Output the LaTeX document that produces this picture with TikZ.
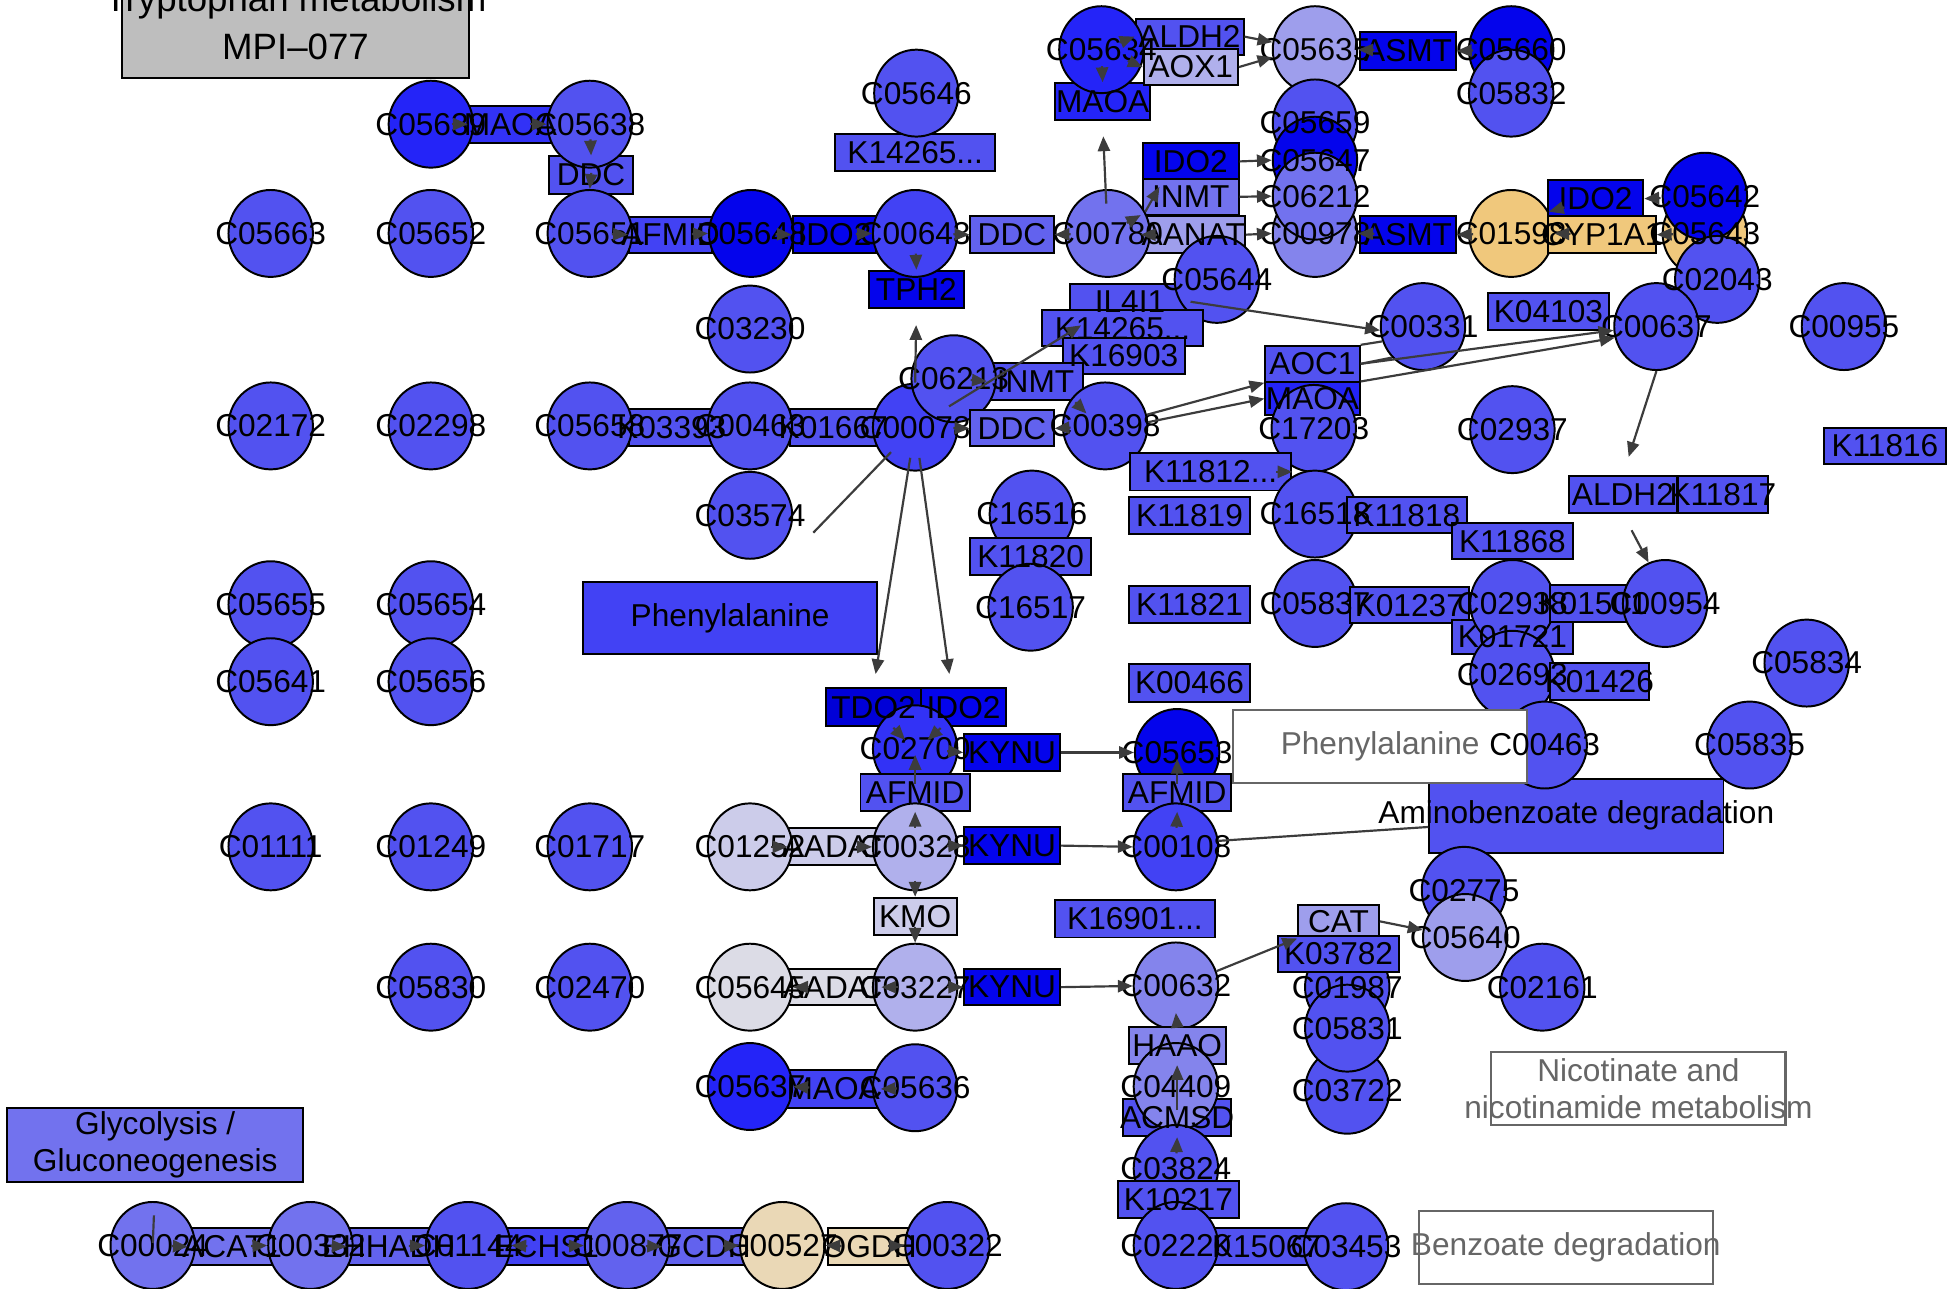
\documentclass[tikz,border=0pt]{standalone}
\usepackage{fontspec}
\setmainfont{Liberation Sans}
\usetikzlibrary{shapes.geometric,arrows.meta,calc}

\definecolor{kgStd}{RGB}{82,82,240}
\definecolor{kgDeep}{RGB}{4,4,236}
\definecolor{kgNavy}{RGB}{0,0,215}
\definecolor{kgDark}{RGB}{36,36,248}
\definecolor{kgMid}{RGB}{66,66,244}
\definecolor{kgBright}{RGB}{50,50,246}
\definecolor{kgDim}{RGB}{98,98,238}
\definecolor{kgSoft}{RGB}{114,114,238}
\definecolor{kgPale}{RGB}{132,132,236}
\definecolor{kgLight}{RGB}{158,158,236}
\definecolor{kgLav}{RGB}{176,176,236}
\definecolor{kgLilac}{RGB}{204,204,234}
\definecolor{kgMist}{RGB}{220,220,230}
\definecolor{kgTan}{RGB}{240,200,124}
\definecolor{kgSand}{RGB}{234,216,182}
\definecolor{kgTitle}{RGB}{190,190,190}
\definecolor{kgEdge}{RGB}{60,60,60}
\definecolor{kgPath}{RGB}{102,102,102}

\newcommand\kgfont{\fontsize{7.25}{8.5}\selectfont}
\newcommand\titlefont{\fontsize{8.4}{11}\selectfont}
\newcommand\dotz{.{}.{}.}
\newcommand\stub[2]{\draw[arr] ($(#2)!1.3mm!(#1)$) -- (#2);}

\tikzset{
  cpd/.style={ellipse, draw, line width=0.45pt, fill=kgStd, inner sep=0pt,
    minimum width=6.8mm, minimum height=7mm},
  enz/.style={rectangle, draw, line width=0.45pt, fill=kgStd, inner sep=0pt,
    minimum height=2.9mm},
  pathbox/.style={rectangle, draw=kgPath, line width=0.5pt, fill=white, inner sep=0pt,
    minimum width=23.7mm, minimum height=5.9mm},
  lbl/.style={font=\kgfont, inner sep=0pt},
  arr/.style={draw=kgEdge, line width=0.5pt, -{Triangle[length=3.4pt,width=2.8pt]}},
  link/.style={draw=kgEdge, line width=0.5pt}
}

\begin{document}
\begin{tikzpicture}[x=0.1mm,y=-0.1mm]
\clip (0,0) rectangle (1568,1038);

% pathway boxes
\node[enz, fill=kgTitle, minimum width=28mm, minimum height=7.5mm] (title) at (238,25) {};
\node[enz, fill=kgMid, minimum width=23.7mm, minimum height=5.8mm] (pheBox) at (588,498) {};
\node[enz, fill=kgSoft, minimum width=23.8mm, minimum height=6mm] (glyco) at (125,922) {};

% isolated compounds
\foreach \n/\x/\y in {C05663/218/188, C05652/347/188, C02172/218/343, C02298/347/343,
  C05655/218/487, C05654/347/487, C05641/218/549, C05656/347/549,
  C01111/218/682, C01249/347/682, C01717/475/682, C05830/347/795, C02470/475/795}
  \node[cpd] (\n) at (\x,\y) {};

% top left
\node[enz, fill=kgBright, minimum width=6.7mm, minimum height=3mm] (MAOAa) at (411,100) {};
\node[enz, minimum width=6.7mm, minimum height=3mm] (DDCa) at (476,141) {};
\node[cpd, fill=kgDark] (C05639) at (347,100) {};
\node[cpd] (C05638) at (475,100) {};
\node[enz, fill=kgMid, minimum width=6.7mm] (AFMIDa) at (540,189) {};
\node[enz, fill=kgDeep, minimum width=6.7mm, minimum height=3mm] (IDO2a) at (672,189) {};
\node[enz, fill=kgDim, minimum width=6.7mm, minimum height=3mm] (DDCb) at (815,189) {};
\node[enz, fill=kgDeep, minimum width=7.7mm, minimum height=3mm] (TPH2) at (738,233) {};
\node[cpd] (C05651) at (475,188) {};
\node[cpd, fill=kgDeep] (C05648) at (605,188) {};
\node[cpd, fill=kgMid] (C00643) at (737,188) {};
\node[cpd] (C03230) at (604,265) {};
\node[enz, minimum width=12.9mm, minimum height=3mm] (K14265a) at (737,123) {};
\node[cpd] (C05646) at (738,75) {};

% top middle
\node[enz, fill=kgDark, minimum width=7.7mm, minimum height=3mm] (MAOAb) at (888,82) {};
\node[enz, minimum width=8.7mm] (ALDH2a) at (958,29.5) {};
\node[enz, fill=kgLav, minimum width=7.6mm] (AOX1) at (959,54) {};
\node[cpd, fill=kgDark] (C05634) at (887,40) {};
\node[enz, fill=kgDeep, minimum width=7.7mm, minimum height=3mm] (ASMTa) at (1134,41) {};
\node[cpd, fill=kgLight] (C05635) at (1059,40) {};
\node[cpd, fill=kgDeep] (C05660) at (1217,40) {};
\node[cpd] (C05832) at (1217,75) {};
\node[cpd] (C05659) at (1059,99) {};
\node[cpd, fill=kgDeep] (C05647) at (1059,129) {};
\node[cpd, fill=kgPale] (C00978) at (1059,188) {};
\node[cpd, fill=kgSoft] (C06212) at (1059,158) {};
\node[enz, fill=kgDeep, minimum width=7.7mm] (IDO2b) at (959,130) {};
\node[enz, fill=kgSoft, minimum width=7.7mm] (INMTa) at (959,158.5) {};
\node[enz, fill=kgLight, minimum width=8.3mm, minimum height=3mm] (AANAT) at (961,189) {};
\node[cpd, fill=kgSoft] (C00780) at (892,188) {};
\node[enz, fill=kgDeep, minimum width=7.7mm, minimum height=3mm] (ASMTb) at (1134,189) {};
\node[cpd, fill=kgTan] (C01598) at (1217,188) {};
\node[enz, fill=kgDeep, minimum width=7.7mm, minimum height=3mm] (IDO2c) at (1285,160) {};
\node[enz, fill=kgTan, minimum width=8.7mm, minimum height=3mm] (CYP1A1) at (1290,189) {};
\node[cpd, fill=kgTan] (C05643) at (1373,188) {};
\node[cpd, fill=kgDeep] (C05642) at (1373,158) {};
\node[cpd] (C02043) at (1383,225) {};
\node[cpd] (C00955) at (1485,263) {};

% middle
\node[enz, minimum width=9.6mm] (IL4I1) at (910,243) {};
\node[cpd] (C05644) at (980,225) {};
\node[enz, minimum width=12.9mm] (K14265b) at (904,264.5) {};
\node[enz, minimum width=9.8mm] (K16903) at (905,286.5) {};
\node[enz, minimum width=6.9mm, minimum height=3mm] (K03393) at (541,344) {};
\node[enz, minimum width=7mm, minimum height=3mm] (K01667) at (671,344) {};
\node[cpd] (C05658) at (475,343) {};
\node[cpd] (C00463) at (604,343) {};
\node[cpd, fill=kgMid] (C00078) at (737,344) {};
\node[enz, minimum width=7.7mm, minimum height=3mm] (INMTb) at (834,307) {};
\node[cpd] (C06213) at (768,305) {};
\node[enz, fill=kgDim, minimum width=6.7mm] (DDCc) at (815,345) {};
\node[cpd] (C00398) at (890,343) {};
\node[cpd] (C03574) at (604,415) {};
\node[enz, minimum width=7.6mm] (AOC1) at (1057,293) {};
\node[enz, fill=kgDark, minimum width=7.6mm, minimum height=2.6mm] (MAOAc) at (1057,321) {};
\node[cpd] (C17203) at (1058,345) {};
\node[cpd] (C00331) at (1146,263) {};
\node[enz, minimum width=9.8mm, minimum height=3mm] (K04103) at (1247,251) {};
\node[cpd] (C00637) at (1334,263) {};
\node[cpd] (C02937) at (1218,346) {};
\node[enz, minimum width=9.8mm] (K11816) at (1518,359) {};
\node[enz, minimum width=13mm, minimum height=3mm] (K11812) at (975,380) {};
\node[cpd] (C16516) at (831,414) {};
\node[enz, minimum width=9.8mm, minimum height=3mm] (K11820) at (830,448) {};
\node[cpd] (C16517) at (830,489) {};
\node[enz, minimum width=9.8mm, minimum height=3mm] (K11819) at (958,415) {};
\node[enz, minimum width=9.8mm, minimum height=3mm] (K11821) at (958,487) {};
\node[enz, minimum width=9.8mm, minimum height=3mm] (K00466) at (958,550) {};
\node[cpd] (C16518) at (1059,414) {};
\node[enz, minimum width=9.7mm] (K11818) at (1133,415) {};
\node[cpd] (C05837) at (1059,486) {};
\node[enz, minimum width=9.6mm] (K01237) at (1135,487.5) {};
\node[enz, minimum width=9.8mm] (K11868) at (1218,436) {};
\node[enz, minimum width=9.8mm, minimum height=2.8mm] (K01721) at (1218,513) {};
\node[cpd] (C02938) at (1218,486) {};
\node[enz, minimum width=7mm, minimum height=3mm] (K01501) at (1283,486) {};
\node[cpd] (C00954) at (1341,486) {};
\node[cpd] (C02693) at (1218,543) {};
\node[enz, minimum width=8mm, minimum height=3mm] (K01426) at (1288,549) {};
\node[enz, minimum width=8.7mm, minimum height=3mm] (ALDH2b) at (1307,398) {};
\node[enz, minimum width=7.3mm, minimum height=3mm] (K11817) at (1387.5,398) {};
\node[enz, minimum width=23.7mm, minimum height=6mm] (amino) at (1269.5,657) {};
\node[cpd] (C00463r) at (1244,600) {};
\node[pathbox] (pheWhite) at (1111.5,601) {};
\node[cpd] (C05834) at (1455,534) {};
\node[cpd] (C05835) at (1409,600) {};

% kynurenine branch
\node[enz, fill=kgNavy, minimum width=7.7mm, minimum height=3.1mm] (TDO2) at (703.5,569.5) {};
\node[enz, fill=kgDeep, minimum width=6.8mm, minimum height=3.1mm] (IDO2d) at (776,569.5) {};
\node[enz, fill=kgDeep, minimum width=7.7mm, minimum height=3mm] (KYNUa) at (815,606) {};
\node[cpd, fill=kgBright] (C02700) at (737,603) {};
\node[enz, minimum width=8.8mm, minimum height=3mm] (AFMIDb) at (737,638) {};
\node[enz, fill=kgLilac, minimum width=7.4mm, minimum height=3mm] (AADATa) at (672,682) {};
\node[enz, fill=kgDeep, minimum width=7.7mm, minimum height=3mm] (KYNUb) at (815,681) {};
\node[cpd, fill=kgLilac] (C01252) at (604,682) {};
\node[cpd, fill=kgLav] (C00328) at (737,682) {};
\node[cpd, fill=kgDeep] (C05653) at (948,606) {};
\node[enz, minimum width=8.7mm, minimum height=3mm] (AFMIDc) at (948,638) {};
\node[cpd, fill=kgMid] (C00108) at (947,682) {};
\node[enz, fill=kgLilac, minimum width=6.7mm, minimum height=3mm] (KMO) at (737,738) {};
\node[enz, minimum width=12.9mm, minimum height=3mm] (K16901) at (914,740) {};
\node[enz, fill=kgMist, minimum width=7.4mm] (AADATb) at (672,795) {};
\node[enz, fill=kgDeep, minimum width=7.7mm] (KYNUc) at (815,795) {};
\node[cpd, fill=kgMist] (C05645) at (604,795) {};
\node[cpd, fill=kgLav] (C03227) at (737,795) {};
\node[cpd, fill=kgPale] (C00632) at (947,794) {};
\node[enz, fill=kgPale, minimum width=7.8mm, minimum height=3mm] (HAAO) at (948,842) {};
\node[enz, minimum width=8.7mm, minimum height=3mm] (ACMSD) at (948,900) {};
\node[cpd, fill=kgPale] (C04409) at (947,875) {};
\node[cpd] (C03824) at (947,941) {};
\node[enz, minimum width=9.8mm, minimum height=3mm] (K10217) at (949,966) {};
\node[enz, minimum width=9mm, minimum height=3mm] (K15067) at (1020,1004) {};
\node[cpd] (C02220) at (947,1003) {};
\node[cpd] (C03453) at (1084,1004) {};
\node[enz, fill=kgMid, minimum width=7.5mm, minimum height=3mm] (MAOAd) at (671,877) {};
\node[cpd, fill=kgDark] (C05637) at (604,875) {};
\node[cpd] (C05636) at (737,876) {};

% lower right
\node[enz, fill=kgLight, minimum width=6.5mm, minimum height=2.6mm] (CAT) at (1078,742) {};
\node[cpd] (C01987) at (1085,795) {};
\node[enz, minimum width=9.8mm] (K03782) at (1078,768) {};
\node[cpd] (C03722) at (1085,878) {};
\node[cpd] (C05831) at (1085,828) {};
\node[cpd] (C02775) at (1179,717) {};
\node[cpd] (C02161) at (1242,795) {};
\node[cpd, fill=kgLight] (C05640) at (1180,755) {};
\node[pathbox] (nicot) at (1319.5,876.5) {};
\node[pathbox] (benzo) at (1261,1004.5) {};

% lysine row
\node[enz, fill=kgSoft, minimum width=7mm, minimum height=3mm] (ACAT1) at (187,1004) {};
\node[enz, fill=kgDim, minimum width=6.6mm, minimum height=3mm] (EHHADH) at (313,1004) {};
\node[enz, fill=kgMid, minimum width=6.7mm, minimum height=3mm] (ECHS1) at (440,1004) {};
\node[enz, fill=kgDim, minimum width=6.6mm, minimum height=3mm] (GCDH) at (567,1004) {};
\node[enz, fill=kgSand, minimum width=6.7mm, minimum height=3mm] (OGDH) at (700,1004) {};
\node[cpd, fill=kgSoft] (C00024) at (123,1003) {};
\node[cpd, fill=kgSoft] (C00332) at (250,1003) {};
\node[cpd] (C01144) at (377,1003) {};
\node[cpd, fill=kgDim] (C00877) at (505,1003) {};
\node[cpd, fill=kgSand] (C00527) at (630,1003) {};
\node[cpd] (C00322) at (763,1003) {};

% labels
\foreach \n in {C05663, C05652, C02172, C02298, C05655, C05654, C05641, C05656,
  C01111, C01249, C01717, C05830, C02470, C05639, C05638, C05651, C05648, C00643,
  C03230, C05646, C05634, C05635, C05660, C05832, C05659, C05647, C00978, C06212,
  C00780, C01598, C05643, C05642, C02043, C00955, C05644, C05658, C00463, C00078,
  C06213, C00398, C03574, C17203, C00331, C00637, C02937, C16516, C16517, C16518,
  C05837, C02938, C00954, C02693, C05834, C05835, C02700, C01252, C00328, C05653,
  C00108, C05645, C03227, C00632, C04409, C03824, C02220, C03453, C05637, C05636,
  C01987, C03722, C05831, C02775, C02161, C05640, C00024, C00332, C01144, C00877,
  C00527, C00322}
  \node[lbl] at (\n) {\n};
\foreach \n/\t in {MAOAa/MAOA, DDCa/DDC, AFMIDa/AFMID, IDO2a/IDO2, DDCb/DDC, TPH2/TPH2,
  K14265a/K14265\dotz, MAOAb/MAOA, ALDH2a/ALDH2, AOX1/AOX1, ASMTa/ASMT, IDO2b/IDO2,
  INMTa/INMT, AANAT/AANAT, ASMTb/ASMT, IDO2c/IDO2, CYP1A1/CYP1A1, IL4I1/IL4I1,
  K14265b/K14265\dotz, K16903/K16903, K03393/K03393, K01667/K01667, INMTb/INMT,
  DDCc/DDC, AOC1/AOC1, MAOAc/MAOA, K04103/K04103, K11816/K11816, K11812/K11812\dotz,
  K11820/K11820, K11819/K11819, K11821/K11821, K00466/K00466, K11818/K11818,
  K01237/K01237, K11868/K11868, K01721/K01721, K01501/K01501, K01426/K01426,
  ALDH2b/ALDH2, K11817/K11817, C00463r/C00463, TDO2/TDO2, IDO2d/IDO2, KYNUa/KYNU,
  AFMIDb/AFMID, AADATa/AADAT, KYNUb/KYNU, AFMIDc/AFMID, KMO/KMO, K16901/K16901\dotz,
  AADATb/AADAT, KYNUc/KYNU, HAAO/HAAO, ACMSD/ACMSD, K10217/K10217, K15067/K15067,
  MAOAd/MAOA, CAT/CAT, K03782/K03782, ACAT1/ACAT1, EHHADH/EHHADH, ECHS1/ECHS1,
  GCDH/GCDH, OGDH/OGDH}
  \node[lbl] at (\n) {\t};
\node[lbl, font=\titlefont, align=center, yshift=0.7mm] at (title) {Tryptophan metabolism\\MPI--077};
\node[lbl] at (pheBox) {Phenylalanine};
\node[lbl, align=center] at (glyco) {Glycolysis /\\Gluconeogenesis};
\node[lbl, text=kgPath] at (pheWhite) {Phenylalanine};
\node[lbl] at (amino) {Aminobenzoate degradation};
\node[lbl, text=kgPath, align=center] at (nicot) {Nicotinate and\\nicotinamide metabolism};
\node[lbl, text=kgPath] at (benzo) {Benzoate degradation};

% connectors
\stub{C05639.center}{MAOAa.west}
\stub{MAOAa.center}{C05638.west}
\stub{C05638.center}{DDCa.north}
\stub{DDCa.center}{C05651.north}
\stub{C05651.center}{AFMIDa.west}
\stub{AFMIDa.center}{C05648.west}
\stub{C05648.center}{IDO2a.west}
\stub{IDO2a.center}{C00643.west}
\stub{C00643.center}{DDCb.west}
\stub{C00780.center}{DDCb.east}
\stub{C00643.center}{TPH2.north}
\draw[arr, shorten >=1.3mm] (C00078.north) -- (TPH2.south);
\draw[arr, shorten <=2.4mm, shorten >=1.2mm] (C00780.center) -- (MAOAb.south);
\stub{C05634.center}{MAOAb.north}
\stub{C05634.center}{ALDH2a.west}
\stub{C05634.center}{AOX1.west}
\draw[arr] (ALDH2a.east) -- (C05635.170);
\draw[arr] (AOX1.east) -- (C05635.190);
\stub{ASMTa.center}{C05635.east}
\stub{C05660.center}{ASMTa.east}
\draw[arr] (IDO2b.east) -- (C05647.west);
\draw[arr] (INMTa.east) -- (C06212.west);
\draw[arr] (AANAT.east) -- (C00978.west);
\draw[arr] (C00780.30) -- ($(INMTa.west)+(1.4mm,0.8mm)$);
\stub{C00780.center}{AANAT.north west}
\stub{AANAT.center}{AANAT.west}
\stub{ASMTb.center}{C00978.east}
\stub{C01598.center}{ASMTb.east}
\stub{CYP1A1.center}{C01598.east}
\stub{IDO2c.center}{C01598.30}
\stub{C05642.center}{IDO2c.east}
\stub{C05643.center}{CYP1A1.east}
\draw[arr, shorten <=3.2mm] (C00078.center) -- ($(K14265b.west)+(3.2mm,0.25mm)$);
\stub{C06213.center}{INMTb.west}
\stub{C00078.center}{DDCc.west}
\stub{C00398.center}{DDCc.east}
\draw[arr] ($(C00398.center)+(-2.4mm,1.9mm)$) -- ($(C00398.center)+(-1.5mm,1mm)$);
\draw[arr] (C00398.15) -- (AOC1.south west);
\draw[arr] (C00398.5) -- (MAOAc.west);
\draw[arr] (AOC1.east) -- (C00637.185);
\draw[arr] (MAOAc.north east) -- (C00637.195);
\draw[link] (AOC1.north east) -- (C00331.200);
\draw[link] (AOC1.east) -- (C00331.225);
\draw[arr] (IL4I1.east) -- (C00331.185);
\draw[arr, shorten >=1.5mm] (C00637.south) -- (ALDH2b.north);
\draw[arr, shorten <=1.5mm] (ALDH2b.south) -- (C00954.112);
\stub{K11812.west}{K11812.east}
\coordinate (cut) at (655,429);
\draw[link, shorten <=2.8mm] (C00078.center) -- (cut);
\draw[arr, shorten <=2.5mm, shorten >=1.05mm] (C00078.center) -- (TDO2.north);
\draw[arr, shorten <=2.5mm, shorten >=1.05mm] (C00078.center) -- ($(IDO2d.north)+(-1mm,0)$);
\draw[arr, shorten <=2.3mm] (TDO2.center) -- ($(C02700.center)+(-0.8mm,0.7mm)$);
\draw[arr, shorten <=2.5mm] (IDO2d.center) -- ($(C02700.center)+(1mm,0.7mm)$);
\stub{C02700.center}{KYNUa.west}
\draw[arr] (KYNUa.east) -- (C05653.west);
\stub{C00328.center}{AFMIDb.south}
\draw[arr, shorten <=0.7mm, shorten >=0.5mm] (AFMIDb.center) -- (C02700.center);
\stub{C01252.center}{AADATa.west}
\stub{AADATa.center}{C00328.west}
\stub{C00328.center}{KYNUb.west}
\draw[arr] (KYNUb.east) -- (C00108.west);
\stub{C00108.center}{AFMIDc.south}
\draw[arr, shorten <=0.7mm, shorten >=0.5mm] (AFMIDc.center) -- (C05653.center);
\draw[link] (C00108.8) -- ($(amino.west)+(0,-0.9mm)$);
\stub{C00328.center}{KMO.north}
\stub{KMO.center}{C03227.north}
\stub{AADATb.center}{C05645.east}
\stub{C03227.center}{AADATb.east}
\stub{C03227.center}{KYNUc.west}
\draw[arr] (KYNUc.east) -- (C00632.west);
\draw[arr] (C00632.20) -- (CAT.south west);
\draw[arr] (CAT.east) -- (C05640.170);
\draw[arr] (HAAO.north) -- ($(C00632.south)+(0,1.4mm)$);
\draw[arr, shorten <=0.6mm] (ACMSD.center) -- (HAAO.south);
\stub{C03824.center}{ACMSD.south}
\stub{C05636.center}{MAOAd.east}
\stub{MAOAd.center}{C05637.east}
\stub{C00024.center}{ACAT1.west}
\stub{ACAT1.center}{C00332.west}
\stub{C00332.center}{EHHADH.west}
\stub{EHHADH.center}{C01144.west}
\stub{ECHS1.center}{C01144.east}
\stub{ECHS1.center}{C00877.west}
\stub{C00877.center}{GCDH.west}
\stub{GCDH.center}{C00527.west}
\stub{OGDH.center}{C00527.east}
\stub{OGDH.center}{C00322.west}
\draw[link, shorten <=0.2mm, shorten >=2.6mm] (C00024.center) -- (glyco.south);
\end{tikzpicture}
\end{document}
